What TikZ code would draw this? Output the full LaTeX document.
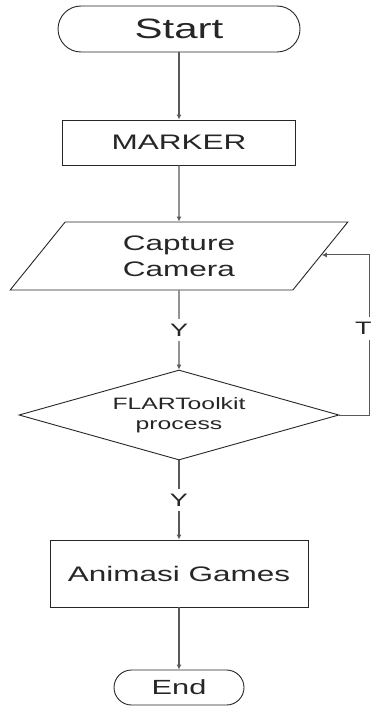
\documentclass[tikz,border=0pt]{standalone}
\usepackage{fontspec}
\setmainfont[FakeStretch=1.5]{Liberation Sans}
\usetikzlibrary{shapes.geometric,shapes.misc,arrows.meta,calc}
\begin{document}
\begin{tikzpicture}[x=1pt,y=-1pt,
  shapeline/.style={draw=black!85, line width=0.9pt, text=black!85, inner sep=0pt, align=center},
  termbox/.style={shapeline, rounded rectangle},
  procbox/.style={shapeline, rectangle},
  iobox/.style={shapeline, trapezium, trapezium left angle=56.5, trapezium right angle=123.5, trapezium stretches=true},
  decbox/.style={shapeline, diamond, aspect=3.556},
  flow/.style={draw=black!65, line width=1.4pt, -{Latex[length=5pt,width=5pt]}},
  lbl/.style={fill=white, inner xsep=1.5pt, inner ysep=5pt, text=black!85, font=\fontsize{18}{20}\selectfont}]
\useasboundingbox (0,0) rectangle (372,706);
\begin{scope}
\clip (0,0) rectangle (372,706);
\node[termbox, minimum width=242pt, minimum height=46pt, font=\fontsize{28}{32}\selectfont] (start) at (179,29) {Start};
\node[procbox, minimum width=233pt, minimum height=45pt, font=\fontsize{21}{24}\selectfont] (marker) at (179,142.5) {MARKER};
\node[iobox, minimum width=338pt, minimum height=68pt, font=\fontsize{21}{26}\selectfont] (cap) at (179,256) {Capture\\Camera};
\node[decbox, minimum width=320pt, minimum height=90pt, font=\fontsize{16.5}{20}\selectfont] (dia) at (179,415) {FLARToolkit\\process};
\node[procbox, minimum width=258pt, minimum height=67pt, font=\fontsize{21}{24}\selectfont] (anim) at (179,573.5) {Animasi Games};
\node[termbox, minimum width=130pt, minimum height=35pt, font=\fontsize{20.5}{24}\selectfont] (end) at (179,687.5) {End};
\coordinate (capR) at ($(cap.top right corner)!0.485!(cap.bottom right corner)$);
\draw[flow] (start.south) -- (marker.north);
\draw[flow] (marker.south) -- (cap.north);
\draw[flow] (cap.south) -- node[lbl]{Y} (dia.north);
\draw[flow] (dia.south) -- node[lbl]{Y} (anim.north);
\draw[flow] (anim.south) -- (end.north);
\draw[flow, line width=1pt] (dia.east) -- ++(30,0) |- coordinate[pos=0.27] (tpos) (capR);
\node[lbl, anchor=center, inner xsep=9pt] (tlab) at ($(tpos)+(-6,0)$) {T};
\end{scope}
\end{tikzpicture}
\end{document}
